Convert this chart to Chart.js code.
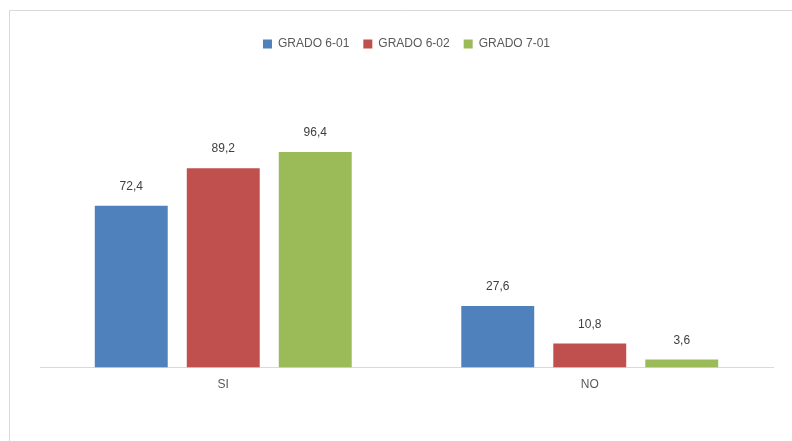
<!DOCTYPE html>
<html>
<head>
<meta charset="utf-8">
<script src="https://cdn.jsdelivr.net/npm/chart.js@4"></script>
<style>
  html, body { margin: 0; padding: 0; background: #fff; }
  #wrap { position: relative; width: 792px; height: 441px; }
</style>
</head>
<body>
<div id="wrap"><canvas id="c" width="792" height="441"></canvas></div>
<script>
const categories = ["SI", "NO"];
const seriesNames = ["GRADO 6-01", "GRADO 6-02", "GRADO 7-01"];
const grado601 = [72.4, 27.6];
const grado602 = [89.2, 10.8];
const grado701 = [96.4, 3.6];
const colors = ["#4f81bd", "#c0504d", "#9bbb59"];

const FONT = "'Liberation Sans', Arial, sans-serif";

const framePlugin = {
  id: 'frame',
  beforeDraw(chart) {
    const ctx = chart.ctx;
    ctx.save();
    ctx.fillStyle = '#fff';
    ctx.fillRect(0, 0, chart.width, chart.height);
    ctx.strokeStyle = '#d9d9d9';
    ctx.lineWidth = 1;
    ctx.beginPath();
    ctx.moveTo(9.5, 441);
    ctx.lineTo(9.5, 10.5);
    ctx.lineTo(792, 10.5);
    ctx.stroke();
    ctx.restore();
  }
};

const legendSpace = {
  id: 'legendSpace',
  beforeInit(chart) {
    const orig = chart.legend.fit;
    chart.legend.fit = function () {
      orig.bind(chart.legend)();
      this.height += 84;
    };
  }
};

const valueLabels = {
  id: 'valueLabels',
  afterDatasetsDraw(chart) {
    const ctx = chart.ctx;
    ctx.save();
    ctx.font = "12px " + FONT;
    ctx.fillStyle = '#404040';
    ctx.textAlign = 'center';
    ctx.textBaseline = 'middle';
    chart.data.datasets.forEach((ds, i) => {
      const meta = chart.getDatasetMeta(i);
      meta.data.forEach((bar, j) => {
        const v = ds.data[j];
        ctx.fillText(v.toFixed(1).replace('.', ','), bar.x, bar.y - 19);
      });
    });
    ctx.restore();
  }
};

new Chart(document.getElementById('c'), {
  type: 'bar',
  data: {
    labels: categories,
    datasets: [
      { label: seriesNames[0], data: grado601, backgroundColor: colors[0] },
      { label: seriesNames[1], data: grado602, backgroundColor: colors[1] },
      { label: seriesNames[2], data: grado701, backgroundColor: colors[2] }
    ]
  },
  options: {
    responsive: false,
    animation: false,
    devicePixelRatio: 1,
    layout: { padding: { left: 40, right: 19, top: 24, bottom: 47 } },
    datasets: { bar: { categoryPercentage: 0.753, barPercentage: 0.793 } },
    plugins: {
      legend: {
        position: 'top',
        labels: {
          boxWidth: 9, boxHeight: 9, padding: 14,
          color: '#595959',
          font: { size: 12, family: FONT }
        }
      },
      tooltip: { enabled: false }
    },
    scales: {
      x: {
        grid: { display: false },
        border: { display: true, color: '#d9d9d9', width: 1 },
        ticks: { color: '#595959', font: { size: 12, family: FONT }, padding: 2 }
      },
      y: {
        display: false,
        min: 0, max: 100
      }
    }
  },
  plugins: [framePlugin, legendSpace, valueLabels]
});
</script>
</body>
</html>
